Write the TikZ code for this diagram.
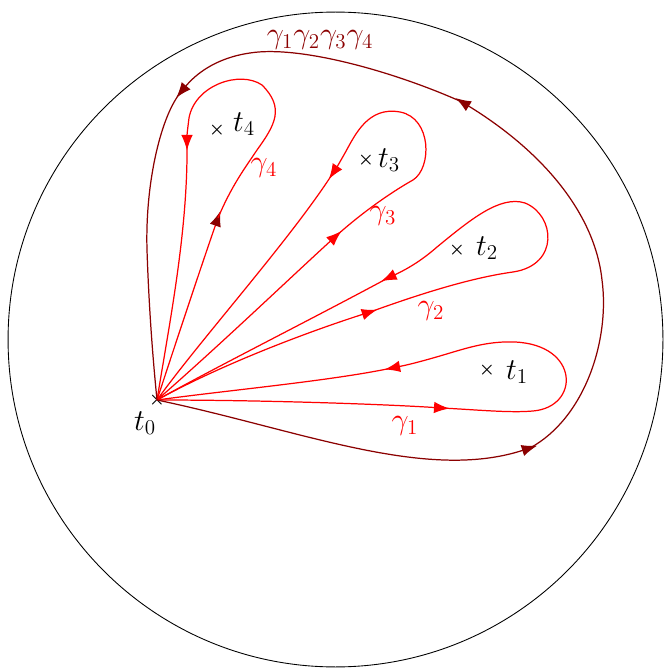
\documentclass[tikz,border=0pt]{standalone}
\usepackage{amsmath,amssymb}
\usepackage{xcolor}
\usepackage{tikz}
\usetikzlibrary{arrows.meta}
\definecolor{loopred}{HTML}{8B0000}
\definecolor{pathred}{HTML}{FF0000}

\begin{document}
\begin{tikzpicture}[x=0.02cm, y=-0.02cm,
  redpath/.style={draw=pathred, line width=0.7pt},
  outerpath/.style={draw=loopred, line width=0.7pt},
  arrowed/.style={-{Latex[length=3.1mm, width=2.3mm]}, shorten >=-1.5mm},
  pointmark/.style={inner sep=0pt, font=\normalsize},
  lab/.style={inner sep=0pt, font=\LARGE}]
  \useasboundingbox (0,0) rectangle (663,668);
  \draw[line width=0.5pt] (335.5,339.5) circle[radius=6.55cm];

  % base point and punctures
  \coordinate (o) at (157,400);
  \node[pointmark] (t0) at (157,400) {$\boldsymbol{\times}$};
  \node[pointmark] (t1) at (487,370) {$\boldsymbol{\times}$};
  \node[pointmark] (t2) at (457,250) {$\boldsymbol{\times}$};
  \node[pointmark] (t3) at (366,160) {$\boldsymbol{\times}$};
  \node[pointmark] (t4) at (217,130) {$\boldsymbol{\times}$};
  \node[lab] (t0lab) at (145,423) {$t_0$};
  \node[lab] (t1lab) at (517,372) {$t_1$};
  \node[lab] (t2lab) at (487,248) {$t_2$};
  \node[lab] (t3lab) at (389,160) {$t_3$};
  \node[lab] (t4lab) at (244,124) {$t_4$};

  % gamma_1
  \coordinate (g1a) at (442,408);
  \coordinate (g1b) at (392,368);
  \draw[redpath, arrowed] (o) .. controls (260,400) and (380,404) .. (g1a);
  \draw[redpath, arrowed] (g1a) .. controls (480,410) and (510,413) .. (533,411)
    .. controls (580,407) and (580,345) .. (515,342)
    .. controls (490,341) and (470,347) .. (450,353)
    .. controls (430,359) and (412,364) .. (g1b);
  \draw[redpath] (g1b) .. controls (330,381) and (230,390) .. (o);
  \node[lab, text=pathred] (g1lab) at (405,426) {$\gamma_1$};

  % gamma_2
  \coordinate (g2a) at (370,312);
  \coordinate (g2b) at (388,278);
  \draw[redpath, arrowed] (o) .. controls (230,360) and (320,328) .. (g2a);
  \draw[redpath, arrowed] (g2a) .. controls (420,294) and (470,278) .. (513,272)
    .. controls (560,265) and (555,215) .. (525,203)
    .. controls (500,195) and (470,220) .. (437,247)
    .. controls (420,262) and (405,270) .. (g2b);
  \draw[redpath] (g2b) .. controls (310,320) and (220,365) .. (o);
  \node[lab, text=pathred] (g2lab) at (431,311) {$\gamma_2$};

  % gamma_3
  \coordinate (g3a) at (336,236);
  \coordinate (g3b) at (333,173);
  \draw[redpath, arrowed] (o) .. controls (220,345) and (290,278) .. (g3a);
  \draw[redpath, arrowed] (g3a) .. controls (365,210) and (395,190) .. (413,180)
    .. controls (432,168) and (432,118) .. (400,112)
    .. controls (368,106) and (355,135) .. (345,153)
    .. controls (341,160) and (337,167) .. (g3b);
  \draw[redpath] (g3b) .. controls (290,240) and (200,340) .. (o);
  \node[lab, text=pathred] (g3lab) at (383,216) {$\gamma_3$};

  % gamma_4
  \coordinate (g4a) at (218,218);
  \coordinate (g4b) at (187,143);
  \draw[redpath, -{Latex[length=3.1mm, width=2.3mm, color=loopred]}, shorten >=-1.5mm] (o) .. controls (180,330) and (205,255) .. (g4a);
  \draw[redpath, arrowed] (g4a) .. controls (232,185) and (245,168) .. (257,150)
    .. controls (275,125) and (285,108) .. (262,85)
    .. controls (240,70) and (195,85) .. (189,118)
    .. controls (188,126) and (187,134) .. (g4b);
  \draw[redpath] (g4b) .. controls (188,230) and (170,320) .. (o);
  \node[lab, text=pathred] (g4lab) at (264,168) {$\gamma_4$};

  % product loop
  \coordinate (pa) at (530,448);
  \coordinate (pb) at (462,102);
  \coordinate (pc) at (181,92);
  \draw[outerpath, arrowed] (o) .. controls (300,430) and (425,482) .. (pa);
  \draw[outerpath, arrowed] (pa) .. controls (585,418) and (610,340) .. (602,280)
    .. controls (595,215) and (545,153) .. (pb);
  \draw[outerpath, arrowed] (pb) .. controls (395,72) and (300,45) .. (250,53)
    .. controls (215,58) and (195,75) .. (pc);
  \draw[outerpath] (pc) .. controls (162,114) and (145,180) .. (147,250)
    .. controls (149,310) and (153,360) .. (o);
  \node[lab, text=loopred] (plab) at (320,40) {$\gamma_1\gamma_2\gamma_3\gamma_4$};
\end{tikzpicture}
\end{document}
